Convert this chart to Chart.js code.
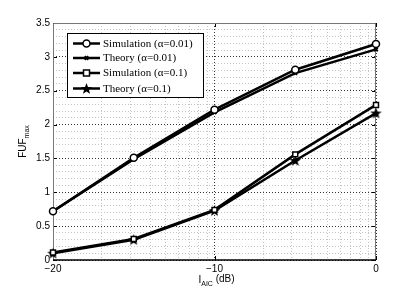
<!DOCTYPE html>
<html>
<head>
<meta charset="utf-8">
<script src="https://cdn.jsdelivr.net/npm/chart.js@4/dist/chart.umd.min.js"></script>
<style>
  html, body { margin: 0; padding: 0; background: #fff; }
  #wrap { width: 415px; height: 293px; }
</style>
</head>
<body>
<div id="wrap"><canvas id="fuf"></canvas></div>
<script>
// I_AIC (dB)
const iAic = [-20, -15, -10, -5, 0];
const simA001 = [0.72, 1.51, 2.22, 2.81, 3.19];
const theoA001 = [0.72, 1.49, 2.18, 2.76, 3.11];
const simA01 = [0.11, 0.31, 0.74, 1.56, 2.29];
const theoA01 = [0.10, 0.30, 0.73, 1.47, 2.17];
const labels = ['Simulation (\u03b1=0.01)', 'Theory (\u03b1=0.01)', 'Simulation (\u03b1=0.1)', 'Theory (\u03b1=0.1)'];
const xTicks = [-20, -10, 0];
const yTicks = [0, 0.5, 1, 1.5, 2, 2.5, 3, 3.5];

// filled pentagram marker
function makeStar(size) {
  const c = document.createElement('canvas');
  c.width = size; c.height = size;
  const g = c.getContext('2d');
  const cx = size / 2, cy = size / 2 + 0.5, ro = size / 2 - 0.5, ri = ro * 0.42;
  g.beginPath();
  for (let i = 0; i < 10; i++) {
    const r = i % 2 ? ri : ro;
    const a = -Math.PI / 2 + i * Math.PI / 5;
    g.lineTo(cx + r * Math.cos(a), cy + r * Math.sin(a));
  }
  g.closePath();
  g.fillStyle = '#000';
  g.fill();
  return c;
}
const star = makeStar(13);

const toXY = (arr) => arr.map((v, i) => ({ x: iAic[i], y: v }));

const styles = [
  { pointStyle: 'circle', pointRadius: 3.5, pointBackgroundColor: '#fff', pointBorderWidth: 1.5 },
  { pointStyle: 'crossRot', pointRadius: 2.5, pointBackgroundColor: '#000', pointBorderWidth: 2 },
  { pointStyle: 'rect', pointRadius: 3.5, pointBackgroundColor: '#fff', pointBorderWidth: 1.5 },
  { pointStyle: star, pointRadius: 6.5, pointBackgroundColor: '#000', pointBorderWidth: 1 }
];
const series = [simA001, theoA001, simA01, theoA01];

const datasets = series.map((s, i) => Object.assign({
  label: labels[i],
  data: toXY(s),
  borderColor: '#000',
  pointBorderColor: '#000',
  borderWidth: 2.5,
  clip: false
}, styles[i]));

// log-looking minor grid of the original (matlab artifact)
const xMinor = [];
[-20, -10].forEach((s) => { for (let k = 2; k <= 9; k++) xMinor.push(s + 10 * Math.log10(k)); });
const yMinor = [];
for (let i = 1; i < 35; i++) if (i % 5) yMinor.push(i / 10);

const font = { family: 'Liberation Sans, Arial, sans-serif', size: 10 };

const decor = {
  id: 'decor',
  beforeDatasetsDraw(chart) {
    const { ctx, chartArea: a, scales } = chart;
    ctx.save();
    ctx.lineWidth = 1;
    ctx.strokeStyle = '#000';
    // inward tick marks
    ctx.beginPath();
    yTicks.forEach((v) => {
      const y = Math.round(scales.y.getPixelForValue(v)) + 0.5;
      ctx.moveTo(a.left, y); ctx.lineTo(a.left + 4, y);
      ctx.moveTo(a.right, y); ctx.lineTo(a.right - 4, y);
    });
    xTicks.forEach((v) => {
      const x = Math.round(scales.x.getPixelForValue(v)) + 0.5;
      ctx.moveTo(x, a.bottom); ctx.lineTo(x, a.bottom - 4);
      ctx.moveTo(x, a.top); ctx.lineTo(x, a.top + 4);
    });
    ctx.stroke();
    // frame
    ctx.strokeStyle = '#777';
    ctx.beginPath();
    ctx.moveTo(a.left + 0.5, a.bottom); ctx.lineTo(a.left + 0.5, a.top + 0.5);
    ctx.lineTo(a.right - 0.5, a.top + 0.5); ctx.lineTo(a.right - 0.5, a.bottom);
    ctx.stroke();
    ctx.strokeStyle = '#000';
    ctx.lineWidth = 1.5;
    ctx.beginPath();
    ctx.moveTo(a.left, a.bottom); ctx.lineTo(a.right, a.bottom);
    ctx.stroke();
    ctx.restore();
  },
  afterDatasetsDraw(chart) {
    const { ctx, chartArea: a } = chart;
    ctx.save();
    // legend box
    const bx = 67, by = 33, bw = 136, bh = 64;
    ctx.fillStyle = '#fff';
    ctx.fillRect(bx, by, bw, bh);
    ctx.strokeStyle = '#000';
    ctx.lineWidth = 1;
    ctx.strokeRect(bx + 0.5, by + 0.5, bw, bh);
    const rows = [43.5, 58, 73, 88.5];
    chart.data.datasets.forEach((ds, i) => {
      const y = rows[i];
      ctx.strokeStyle = '#000';
      ctx.lineWidth = 2.5;
      ctx.beginPath();
      ctx.moveTo(73, y); ctx.lineTo(100, y);
      ctx.stroke();
      ctx.fillStyle = ds.pointBackgroundColor;
      ctx.strokeStyle = '#000';
      ctx.lineWidth = ds.pointBorderWidth;
      if (ds.pointStyle === 'circle' || ds.pointStyle === 'rect') {
        ctx.beginPath();
        if (ds.pointStyle === 'circle') ctx.arc(86.5, y, ds.pointRadius, 0, Math.PI * 2);
        else ctx.rect(86.5 - 3, y - 3, 6, 6);
        ctx.fill(); ctx.stroke();
      } else {
        Chart.helpers.drawPoint(ctx, {
          pointStyle: ds.pointStyle, radius: ds.pointRadius, borderWidth: ds.pointBorderWidth, rotation: 0
        }, 86.5, y);
      }
      ctx.fillStyle = '#000';
      ctx.font = '11px "Liberation Serif", "Times New Roman", serif';
      ctx.textAlign = 'left';
      ctx.textBaseline = 'middle';
      ctx.fillText(ds.label, 103, y + 0.5);
    });
    // axis titles with subscripts
    ctx.fillStyle = '#000';
    ctx.textBaseline = 'alphabetic';
    const main = '10px "Liberation Sans", Arial, sans-serif';
    const sub = '7px "Liberation Sans", Arial, sans-serif';
    ctx.font = main;
    const w1 = ctx.measureText('I').width;
    ctx.font = sub;
    const w2 = ctx.measureText('AIC').width;
    ctx.font = main;
    const w3 = ctx.measureText(' (dB)').width;
    let x = (a.left + a.right) / 2 + 2 - (w1 + w2 + w3) / 2;
    const yb = 283;
    ctx.fillText('I', x, yb); x += w1;
    ctx.font = sub; ctx.fillText('AIC', x, yb + 3); x += w2;
    ctx.font = main; ctx.fillText(' (dB)', x, yb - 1);

    ctx.translate(26, (a.top + a.bottom) / 2);
    ctx.rotate(-Math.PI / 2);
    ctx.font = main;
    const f1 = ctx.measureText('FUF').width;
    ctx.font = sub;
    const f2 = ctx.measureText('max').width;
    let t = -(f1 + f2) / 2;
    ctx.font = main; ctx.fillText('FUF', t, 0); t += f1;
    ctx.font = sub; ctx.fillText('max', t, 3);
    ctx.restore();
  }
};

new Chart(document.getElementById('fuf'), {
  type: 'line',
  data: { datasets: datasets },
  options: {
    responsive: true,
    maintainAspectRatio: false,
    animation: false,
    layout: { padding: { top: 23, right: 39, left: 0, bottom: 0 } },
    plugins: { legend: { display: false }, tooltip: { enabled: false } },
    scales: {
      xMinor: {
        type: 'linear', position: 'bottom', min: -20, max: 0,
        afterBuildTicks: (s) => { s.ticks = xMinor.map((v) => ({ value: v })); },
        afterFit: (s) => { s.height = 0; },
        ticks: { display: false },
        grid: { color: '#c4c4c4', drawTicks: false },
        border: { display: false, dash: [1, 2] }
      },
      yMinor: {
        type: 'linear', position: 'left', min: 0, max: 3.5,
        afterBuildTicks: (s) => { s.ticks = yMinor.map((v) => ({ value: v })); },
        afterFit: (s) => { s.width = 0; },
        ticks: { display: false },
        grid: { color: '#c4c4c4', drawTicks: false },
        border: { display: false, dash: [1, 2] }
      },
      x: {
        type: 'linear', position: 'bottom', min: -20, max: 0,
        afterBuildTicks: (s) => { s.ticks = xTicks.map((v) => ({ value: v })); },
        afterFit: (s) => { s.height = 33; },
        ticks: {
          color: '#000', font: font, padding: 3, maxRotation: 0,
          callback: (v) => String(v).replace('-', '\u2212')
        },
        grid: { color: '#333', drawTicks: false },
        border: { display: false, dash: [1, 2] }
      },
      y: {
        type: 'linear', position: 'left', min: 0, max: 3.5,
        afterBuildTicks: (s) => { s.ticks = yTicks.map((v) => ({ value: v })); },
        afterFit: (s) => { s.width = 53; },
        ticks: { color: '#000', font: font, padding: 3, callback: (v) => String(v) },
        grid: { color: '#333', drawTicks: false },
        border: { display: false, dash: [1, 2] }
      }
    }
  },
  plugins: [decor]
});
</script>
</body>
</html>
